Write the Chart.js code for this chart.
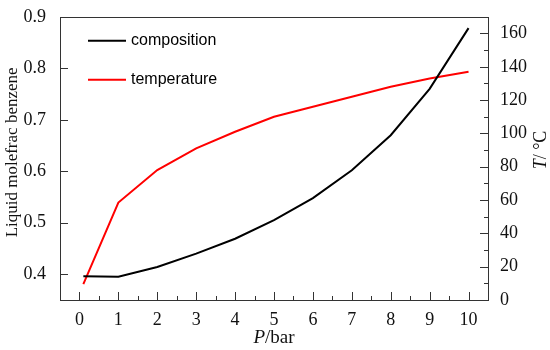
<!DOCTYPE html>
<html>
<head>
<meta charset="utf-8">
<script src="https://cdn.jsdelivr.net/npm/chart.js@4/dist/chart.umd.min.js"></script>
<style>
  body { margin: 0; background: #fff; }
  #wrap { width: 550px; height: 350px; }
</style>
</head>
<body>
<div id="wrap"><canvas id="chart"></canvas></div>
<script>
// data
const pressure = [0.1, 1, 2, 3, 4, 5, 6, 7, 8, 9, 10];
const composition = [0.396, 0.395, 0.414, 0.44, 0.469, 0.505, 0.548, 0.602, 0.670, 0.760, 0.878];
const temperature = [9.5, 58.5, 78, 91, 101, 110, 116, 122, 128, 133, 137];

const xTicks = [0, 1, 2, 3, 4, 5, 6, 7, 8, 9, 10];
const xMinor = [0.5, 1.5, 2.5, 3.5, 4.5, 5.5, 6.5, 7.5, 8.5, 9.5];
const leftTicks = [0.4, 0.5, 0.6, 0.7, 0.8, 0.9];
const rightTicks = [0, 20, 40, 60, 80, 100, 120, 140, 160];
const rightMinor = [10, 30, 50, 70, 90, 110, 130, 150, 170];

const serif = '"Liberation Serif", "Times New Roman", serif';
const sans = '"Liberation Sans", Arial, sans-serif';

// ticks pointing into the plot, like the original
const innerTicks = {
  id: 'innerTicks',
  afterDatasetsDraw(chart) {
    const { ctx, chartArea: a, scales } = chart;
    ctx.save();
    ctx.strokeStyle = '#333';
    ctx.lineWidth = 1;
    ctx.beginPath();
    xTicks.forEach(v => {
      const x = Math.round(scales.x.getPixelForValue(v)) + 0.5;
      ctx.moveTo(x, a.bottom); ctx.lineTo(x, a.bottom - 8);
    });
    xMinor.forEach(v => {
      const x = Math.round(scales.x.getPixelForValue(v)) + 0.5;
      ctx.moveTo(x, a.bottom); ctx.lineTo(x, a.bottom - 4);
    });
    leftTicks.forEach(v => {
      const y = Math.round(scales.y.getPixelForValue(v)) + 0.5;
      ctx.moveTo(a.left, y); ctx.lineTo(a.left + 8, y);
    });
    rightTicks.forEach(v => {
      const y = Math.round(scales.y2.getPixelForValue(v)) + 0.5;
      ctx.moveTo(a.right, y); ctx.lineTo(a.right - 8, y);
    });
    rightMinor.forEach(v => {
      const y = Math.round(scales.y2.getPixelForValue(v)) + 0.5;
      ctx.moveTo(a.right, y); ctx.lineTo(a.right - 4, y);
    });
    ctx.stroke();
    // frame
    ctx.strokeRect(Math.round(a.left) + 0.5, Math.round(a.top) + 0.5,
      Math.round(a.right - a.left), Math.round(a.bottom - a.top));
    ctx.restore();
  }
};

// legend drawn inside the plot, top left
const innerLegend = {
  id: 'innerLegend',
  afterDatasetsDraw(chart) {
    const { ctx, chartArea: a } = chart;
    ctx.save();
    ctx.font = '16px ' + sans;
    ctx.textBaseline = 'middle';
    chart.data.datasets.forEach((ds, i) => {
      const y = a.top + 24 + i * 39;
      ctx.strokeStyle = ds.borderColor;
      ctx.lineWidth = 2;
      ctx.beginPath();
      ctx.moveTo(a.left + 28, y);
      ctx.lineTo(a.left + 66, y);
      ctx.stroke();
      ctx.fillStyle = '#000';
      ctx.fillText(ds.label, a.left + 71, y);
    });
    ctx.restore();
  }
};

// axis titles with italic symbols
function mixed(ctx, parts, x, y, size) {
  let w = 0;
  parts.forEach(p => { ctx.font = p[1] + ' ' + size + 'px ' + serif; w += ctx.measureText(p[0]).width; });
  let cx = x - w / 2;
  parts.forEach(p => {
    ctx.font = p[1] + ' ' + size + 'px ' + serif;
    ctx.fillText(p[0], cx, y);
    cx += ctx.measureText(p[0]).width;
  });
}

const axisTitles = {
  id: 'axisTitles',
  afterDraw(chart) {
    const { ctx, chartArea: a } = chart;
    ctx.save();
    ctx.fillStyle = '#111';
    ctx.textBaseline = 'middle';
    ctx.textAlign = 'left';
    mixed(ctx, [['P', 'italic'], ['/bar', 'normal']], (a.left + a.right) / 2, 338, 19);

    ctx.save();
    ctx.translate(13, (a.top + a.bottom) / 2 - 6);
    ctx.rotate(-Math.PI / 2);
    ctx.font = '17px ' + serif;
    ctx.textAlign = 'center';
    ctx.fillText('Liquid molefrac benzene', 0, 0);
    ctx.restore();

    ctx.save();
    ctx.translate(541, 150);
    ctx.rotate(-Math.PI / 2);
    mixed(ctx, [['T', 'italic'], ['/ °C', 'normal']], 0, 0, 18);
    ctx.restore();
    ctx.restore();
  }
};

const tickFont = { family: serif, size: 18 };

new Chart(document.getElementById('chart'), {
  type: 'line',
  data: {
    datasets: [
      {
        label: 'composition',
        data: pressure.map((p, i) => ({ x: p, y: composition[i] })),
        borderColor: '#000',
        borderWidth: 2,
        pointRadius: 0,
        tension: 0,
        yAxisID: 'y'
      },
      {
        label: 'temperature',
        data: pressure.map((p, i) => ({ x: p, y: temperature[i] })),
        borderColor: '#ff0000',
        borderWidth: 2,
        pointRadius: 0,
        tension: 0,
        yAxisID: 'y2'
      }
    ]
  },
  options: {
    responsive: true,
    maintainAspectRatio: false,
    animation: false,
    layout: { padding: { top: 15, left: 0, right: 0, bottom: 0 } },
    plugins: { legend: { display: false }, tooltip: { enabled: false } },
    scales: {
      x: {
        type: 'linear',
        min: -0.5,
        max: 10.5,
        afterBuildTicks: s => { s.ticks = xTicks.map(v => ({ value: v })); },
        afterFit: s => { s.height = 50; },
        grid: { display: false },
        border: { display: false },
        ticks: { color: '#111', font: tickFont, padding: 1 }
      },
      y: {
        position: 'left',
        min: 0.35,
        max: 0.9,
        afterBuildTicks: s => { s.ticks = leftTicks.map(v => ({ value: v })); },
        afterFit: s => { s.width = 60; },
        grid: { display: false },
        border: { display: false },
        ticks: { color: '#111', font: tickFont, padding: 6,
          callback: v => v.toFixed(1) }
      },
      y2: {
        position: 'right',
        min: 0,
        max: 170,
        afterBuildTicks: s => { s.ticks = rightTicks.map(v => ({ value: v })); },
        afterFit: s => { s.width = 62; },
        grid: { display: false },
        border: { display: false },
        ticks: { color: '#111', font: tickFont, padding: 4 }
      }
    }
  },
  plugins: [innerTicks, innerLegend, axisTitles]
});
</script>
</body>
</html>
